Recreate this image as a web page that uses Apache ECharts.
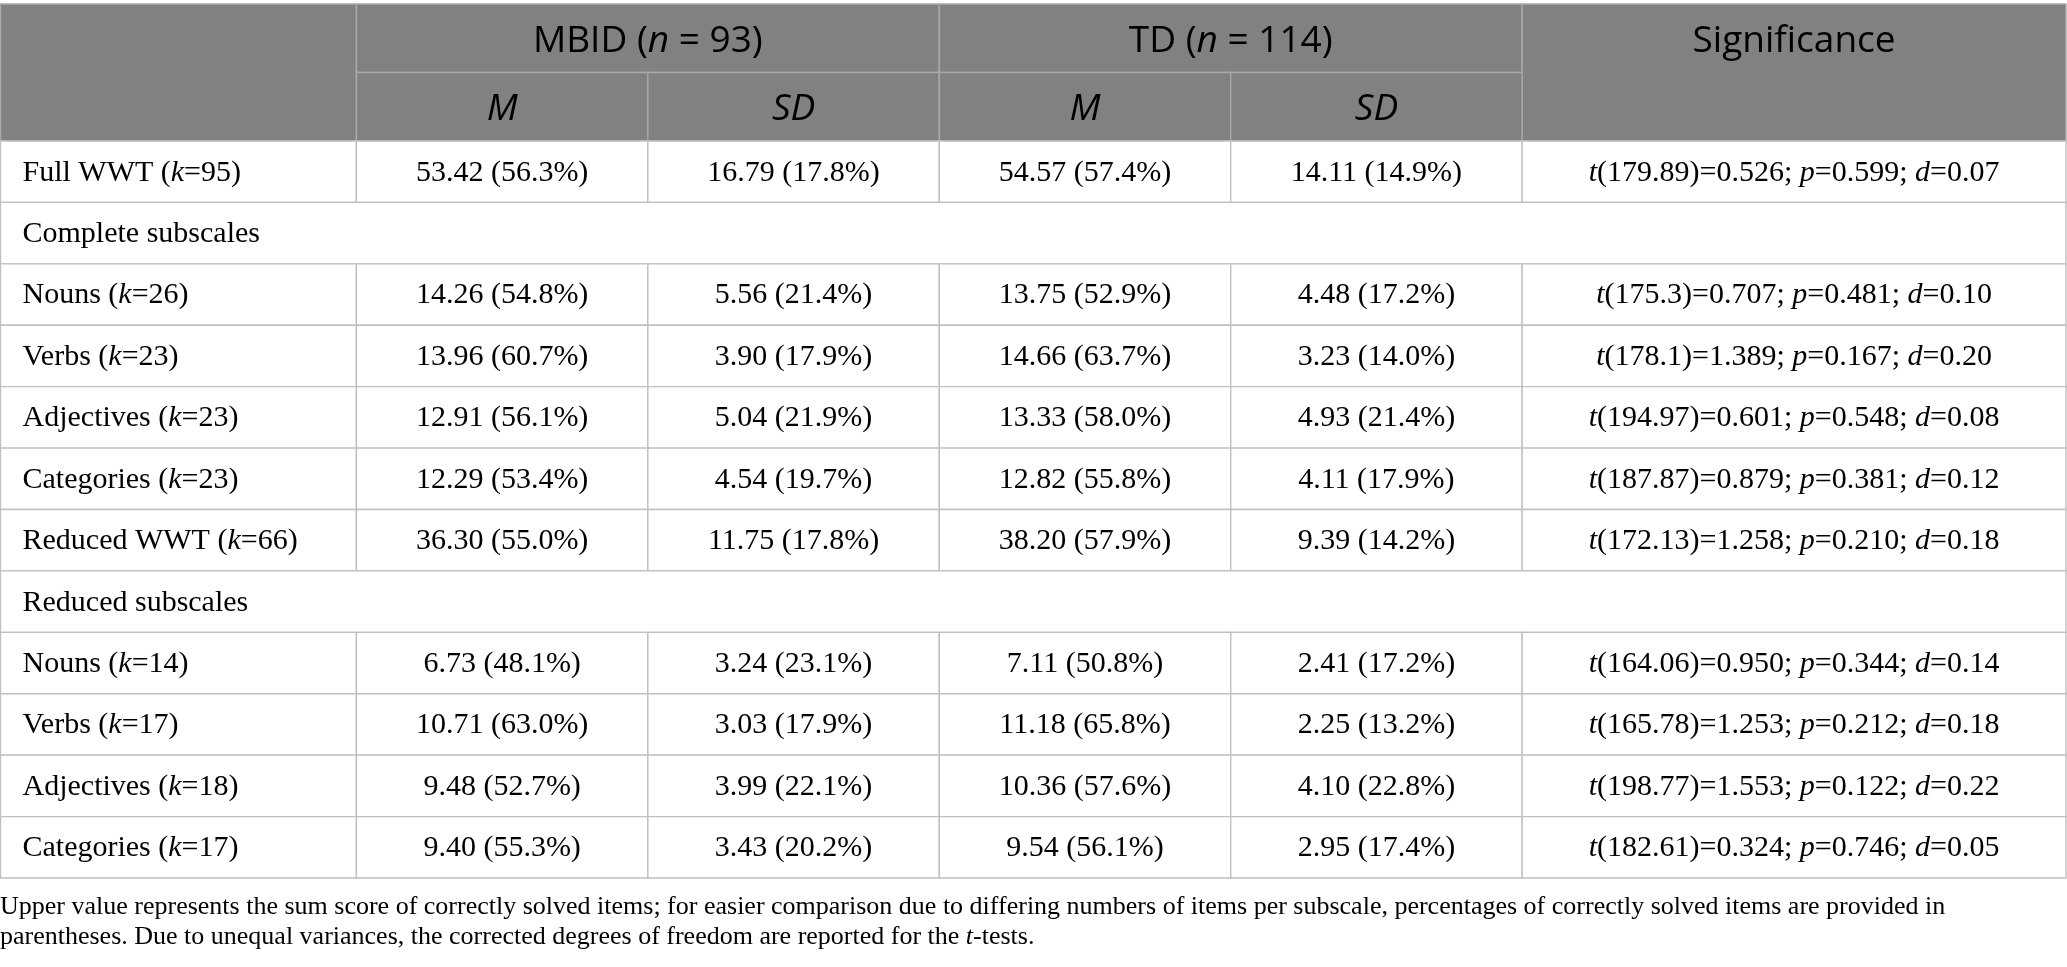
<!DOCTYPE html>
<html>
<head>
<meta charset="utf-8">
<title>WWT table</title>
<script src="https://cdn.jsdelivr.net/npm/echarts@6/dist/echarts.min.js"></script>
<style>
  html, body { margin: 0; padding: 0; background: #fff; }
  #main { width: 2067px; height: 967px; }
</style>
</head>
<body>
<div id="main"></div>
<script>
// table data
const rowNames = ['Full WWT', 'Complete subscales', 'Nouns', 'Verbs', 'Adjectives', 'Categories',
  'Reduced WWT', 'Reduced subscales', 'Nouns', 'Verbs', 'Adjectives', 'Categories'];
const itemK = [95, null, 26, 23, 23, 23, 66, null, 14, 17, 18, 17];
const mbidM = [53.42, null, 14.26, 13.96, 12.91, 12.29, 36.30, null, 6.73, 10.71, 9.48, 9.40];
const mbidMPct = [56.3, null, 54.8, 60.7, 56.1, 53.4, 55.0, null, 48.1, 63.0, 52.7, 55.3];
const mbidSD = [16.79, null, 5.56, 3.90, 5.04, 4.54, 11.75, null, 3.24, 3.03, 3.99, 3.43];
const mbidSDPct = [17.8, null, 21.4, 17.9, 21.9, 19.7, 17.8, null, 23.1, 17.9, 22.1, 20.2];
const tdM = [54.57, null, 13.75, 14.66, 13.33, 12.82, 38.20, null, 7.11, 11.18, 10.36, 9.54];
const tdMPct = [57.4, null, 52.9, 63.7, 58.0, 55.8, 57.9, null, 50.8, 65.8, 57.6, 56.1];
const tdSD = [14.11, null, 4.48, 3.23, 4.93, 4.11, 9.39, null, 2.41, 2.25, 4.10, 2.95];
const tdSDPct = [14.9, null, 17.2, 14.0, 21.4, 17.9, 14.2, null, 17.2, 13.2, 22.8, 17.4];
const tDf = [179.89, null, 175.3, 178.1, 194.97, 187.87, 172.13, null, 164.06, 165.78, 198.77, 182.61];
const tVal = [0.526, null, 0.707, 1.389, 0.601, 0.879, 1.258, null, 0.950, 1.253, 1.553, 0.324];
const pVal = [0.599, null, 0.481, 0.167, 0.548, 0.381, 0.210, null, 0.344, 0.212, 0.122, 0.746];
const dVal = [0.07, null, 0.10, 0.20, 0.08, 0.12, 0.18, null, 0.14, 0.18, 0.22, 0.05];

const groupNames = ['MBID', 'TD'];
const groupN = [93, 114];
const statNames = ['M', 'SD', 'M', 'SD'];
const sigTitle = 'Significance';
const noteLine1 = 'Upper value represents the sum score of correctly solved items; for easier comparison due to differing numbers of items per subscale, percentages of correctly solved items are provided in';
const noteLine2a = 'parentheses. Due to unequal variances, the corrected degrees of freedom are reported for the ';
const noteLine2b = '-tests.';

// layout (pixels)
const colEdges = [0, 356, 647.5, 939, 1230.5, 1522, 2066];
const tableW = 2066;
const serif = "'Liberation Serif', 'Times New Roman', serif";
const sans = "'Open Sans', 'Noto Sans', sans-serif";
const ink = '#1e1c1d';

const headRich = {
  n: { fontFamily: sans, fontSize: 37, fontWeight: 400, color: '#ffffff' },
  i: { fontFamily: sans, fontSize: 37, fontWeight: 400, fontStyle: 'italic', color: '#ffffff' }
};
const bodyRich = {
  n: { fontFamily: serif, fontSize: 30, color: ink },
  i: { fontFamily: serif, fontSize: 30, fontStyle: 'italic', color: ink }
};
const noteRich = {
  n: { fontFamily: serif, fontSize: 26, color: ink },
  i: { fontFamily: serif, fontSize: 26, fontStyle: 'italic', color: ink }
};

function valPct(v, p) {
  return '{n|' + v.toFixed(2) + ' (' + p.toFixed(1) + '%)}';
}

// header cells: [x0, x1, rowStart, rowEnd]
const headCells = [];
headCells.push({ value: [colEdges[0], colEdges[1], 0, 1], text: '' });
groupNames.forEach(function (g, k) {
  headCells.push({
    value: [colEdges[1 + 2 * k], colEdges[3 + 2 * k], 0, 0],
    text: '{n|' + g + ' (}{i|n}{n| = ' + groupN[k] + ')}'
  });
});
headCells.push({ value: [colEdges[5], colEdges[6], 0, 1], text: '{n|' + sigTitle + '}' });
statNames.forEach(function (s, k) {
  headCells.push({ value: [colEdges[1 + k], colEdges[2 + k], 1, 1], text: '{i|' + s + '}' });
});

// body cells
const bodyCells = [];
rowNames.forEach(function (name, r) {
  if (itemK[r] == null) {
    bodyCells.push({ value: [0, tableW, r, r], text: '{n|' + name + '}', left: true });
    return;
  }
  const texts = [
    '{n|' + name + ' (}{i|k}{n|=' + itemK[r] + ')}',
    valPct(mbidM[r], mbidMPct[r]),
    valPct(mbidSD[r], mbidSDPct[r]),
    valPct(tdM[r], tdMPct[r]),
    valPct(tdSD[r], tdSDPct[r]),
    '{i|t}{n|(' + tDf[r] + ')=' + tVal[r].toFixed(3) + '; }{i|p}{n|=' + pVal[r].toFixed(3) +
      '; }{i|d}{n|=' + dVal[r].toFixed(2) + '}'
  ];
  texts.forEach(function (t, c) {
    bodyCells.push({ value: [colEdges[c], colEdges[c + 1], r, r], text: t, left: c === 0 });
  });
});

function makeRender(cells, fill, stroke, rich, dy) {
  return function (params, api) {
    const cell = cells[params.dataIndex];
    const h = api.size([0, 1])[1];
    const a = api.coord([api.value(0), api.value(2)]);
    const b = api.coord([api.value(1), api.value(3)]);
    const top = a[1] - h / 2;
    const bottom = b[1] + h / 2;
    return {
      type: 'group',
      children: [
        {
          type: 'rect',
          shape: { x: a[0], y: top, width: b[0] - a[0], height: bottom - top },
          style: { fill: fill, stroke: stroke, lineWidth: 1.4 }
        },
        {
          type: 'text',
          x: cell.left ? a[0] + 22 : (a[0] + b[0]) / 2,
          y: a[1] + dy,
          style: {
            text: cell.text,
            rich: rich,
            align: cell.left ? 'left' : 'center',
            verticalAlign: 'middle'
          }
        }
      ]
    };
  };
}

const chart = echarts.init(document.getElementById('main'), null, { width: 2067, height: 967 });

const option = {
  backgroundColor: '#ffffff',
  animation: false,
  grid: [
    { left: 0.5, top: 4, width: tableW - 0.5, height: 137 },
    { left: 0.5, top: 141, width: tableW - 0.5, height: 737 }
  ],
  xAxis: [
    { type: 'value', gridIndex: 0, min: 0, max: tableW, show: false },
    { type: 'value', gridIndex: 1, min: 0, max: tableW, show: false }
  ],
  yAxis: [
    { type: 'category', gridIndex: 0, inverse: true, data: ['0', '1'], show: false },
    { type: 'category', gridIndex: 1, inverse: true, data: rowNames.map(function (n, i) { return String(i); }), show: false }
  ],
  series: [
    {
      type: 'custom',
      xAxisIndex: 0,
      yAxisIndex: 0,
      renderItem: makeRender(headCells, '#808180', '#a9a9a9', headRich, 3),
      data: headCells.map(function (c) { return c.value; })
    },
    {
      type: 'custom',
      xAxisIndex: 1,
      yAxisIndex: 1,
      renderItem: makeRender(bodyCells, '#ffffff', '#c0c0c0', bodyRich, 1),
      data: bodyCells.map(function (c) { return c.value; })
    }
  ],
  graphic: [
    {
      type: 'text',
      left: 0,
      top: 894,
      style: { text: '{n|' + noteLine1 + '}', rich: noteRich }
    },
    {
      type: 'text',
      left: 0,
      top: 924,
      style: { text: '{n|' + noteLine2a + '}{i|t}{n|' + noteLine2b + '}', rich: noteRich }
    }
  ]
};

chart.setOption(option);
</script>
</body>
</html>
